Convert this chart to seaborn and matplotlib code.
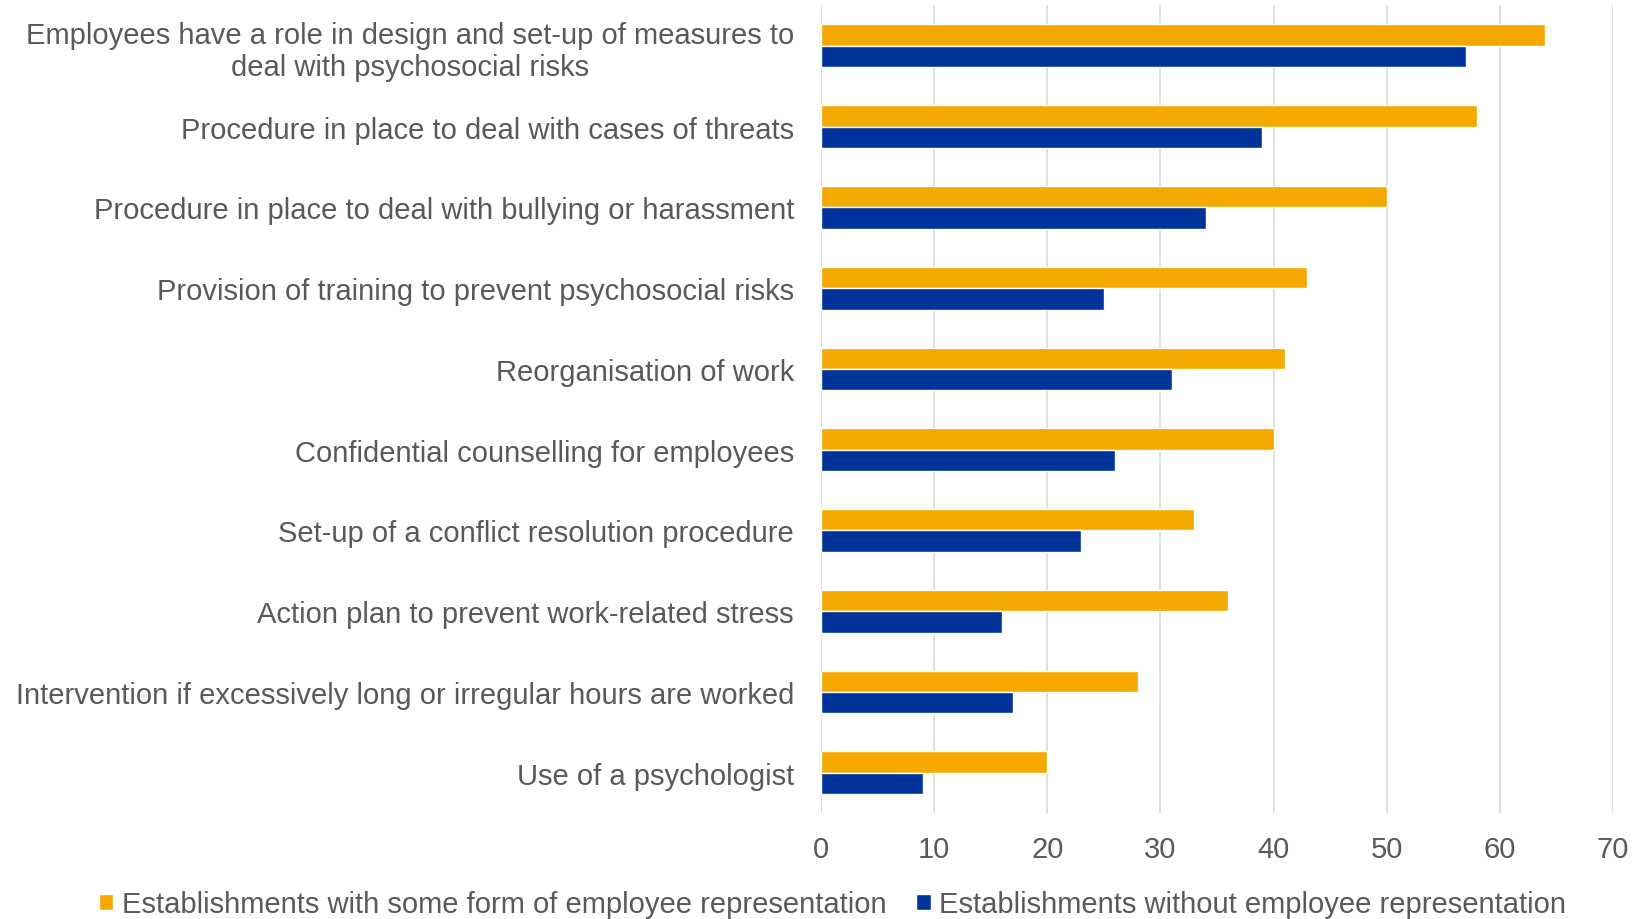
import matplotlib
matplotlib.use("Agg")
import matplotlib.pyplot as plt
import seaborn as sns
import pandas as pd

categories = [
    "Employees have a role in design and set-up of measures to\ndeal with psychosocial risks",
    "Procedure in place to deal with cases of threats",
    "Procedure in place to deal with bullying or harassment",
    "Provision of training to prevent psychosocial risks",
    "Reorganisation of work",
    "Confidential counselling for employees",
    "Set-up of a conflict resolution procedure",
    "Action plan to prevent work-related stress",
    "Intervention if excessively long or irregular hours are worked",
    "Use of a psychologist",
]
with_rep = [64, 58, 50, 43, 41, 40, 33, 36, 28, 20]
without_rep = [57, 39, 34, 25, 31, 26, 23, 16, 17, 9]
series_names = [
    "Establishments with some form of employee representation",
    "Establishments without employee representation",
]
colors = ["#F5A800", "#003399"]

df = pd.DataFrame({
    "category": categories * 2,
    "value": with_rep + without_rep,
    "series": [series_names[0]] * len(categories) + [series_names[1]] * len(categories),
})

sns.set_theme(style="white")
plt.rcParams["font.family"] = ["Liberation Sans", "DejaVu Sans"]

fig = plt.figure(figsize=(16.39, 9.20), dpi=100)
ax = fig.add_axes([0.501, 0.115, 0.483, 0.878])

sns.barplot(data=df, y="category", x="value", hue="series", order=categories,
            hue_order=series_names, palette=colors, width=0.53, orient="h",
            saturation=1, ax=ax, legend=True)

ax.set_xlim(0, 70)
ax.set_ylim(len(categories) - 0.5, -0.5)
ax.set_xticks(range(0, 71, 10))
ax.xaxis.grid(True, color="#D9D9D9", linewidth=1.2)
ax.set_axisbelow(True)
for s in ax.spines.values():
    s.set_visible(False)
ax.set_xlabel("")
ax.set_ylabel("")
ax.tick_params(axis="both", colors="#595959", labelsize=21, length=0)
ax.tick_params(axis="x", pad=16)
ax.tick_params(axis="y", pad=19.5)
for lbl in ax.get_yticklabels():
    lbl.set_horizontalalignment("right")
    lbl.set_multialignment("center")

handles, labels = ax.get_legend_handles_labels()
ax.legend_.remove()
leg = fig.legend(handles, labels, loc="center", bbox_to_anchor=(0.508, 0.016),
                 ncol=2, frameon=False, fontsize=21, handlelength=0.5, handleheight=0.5,
                 handletextpad=0.3, columnspacing=1.0, borderaxespad=0, borderpad=0)
for t in leg.get_texts():
    t.set_color("#595959")

fig.savefig("out.png", dpi=100)
